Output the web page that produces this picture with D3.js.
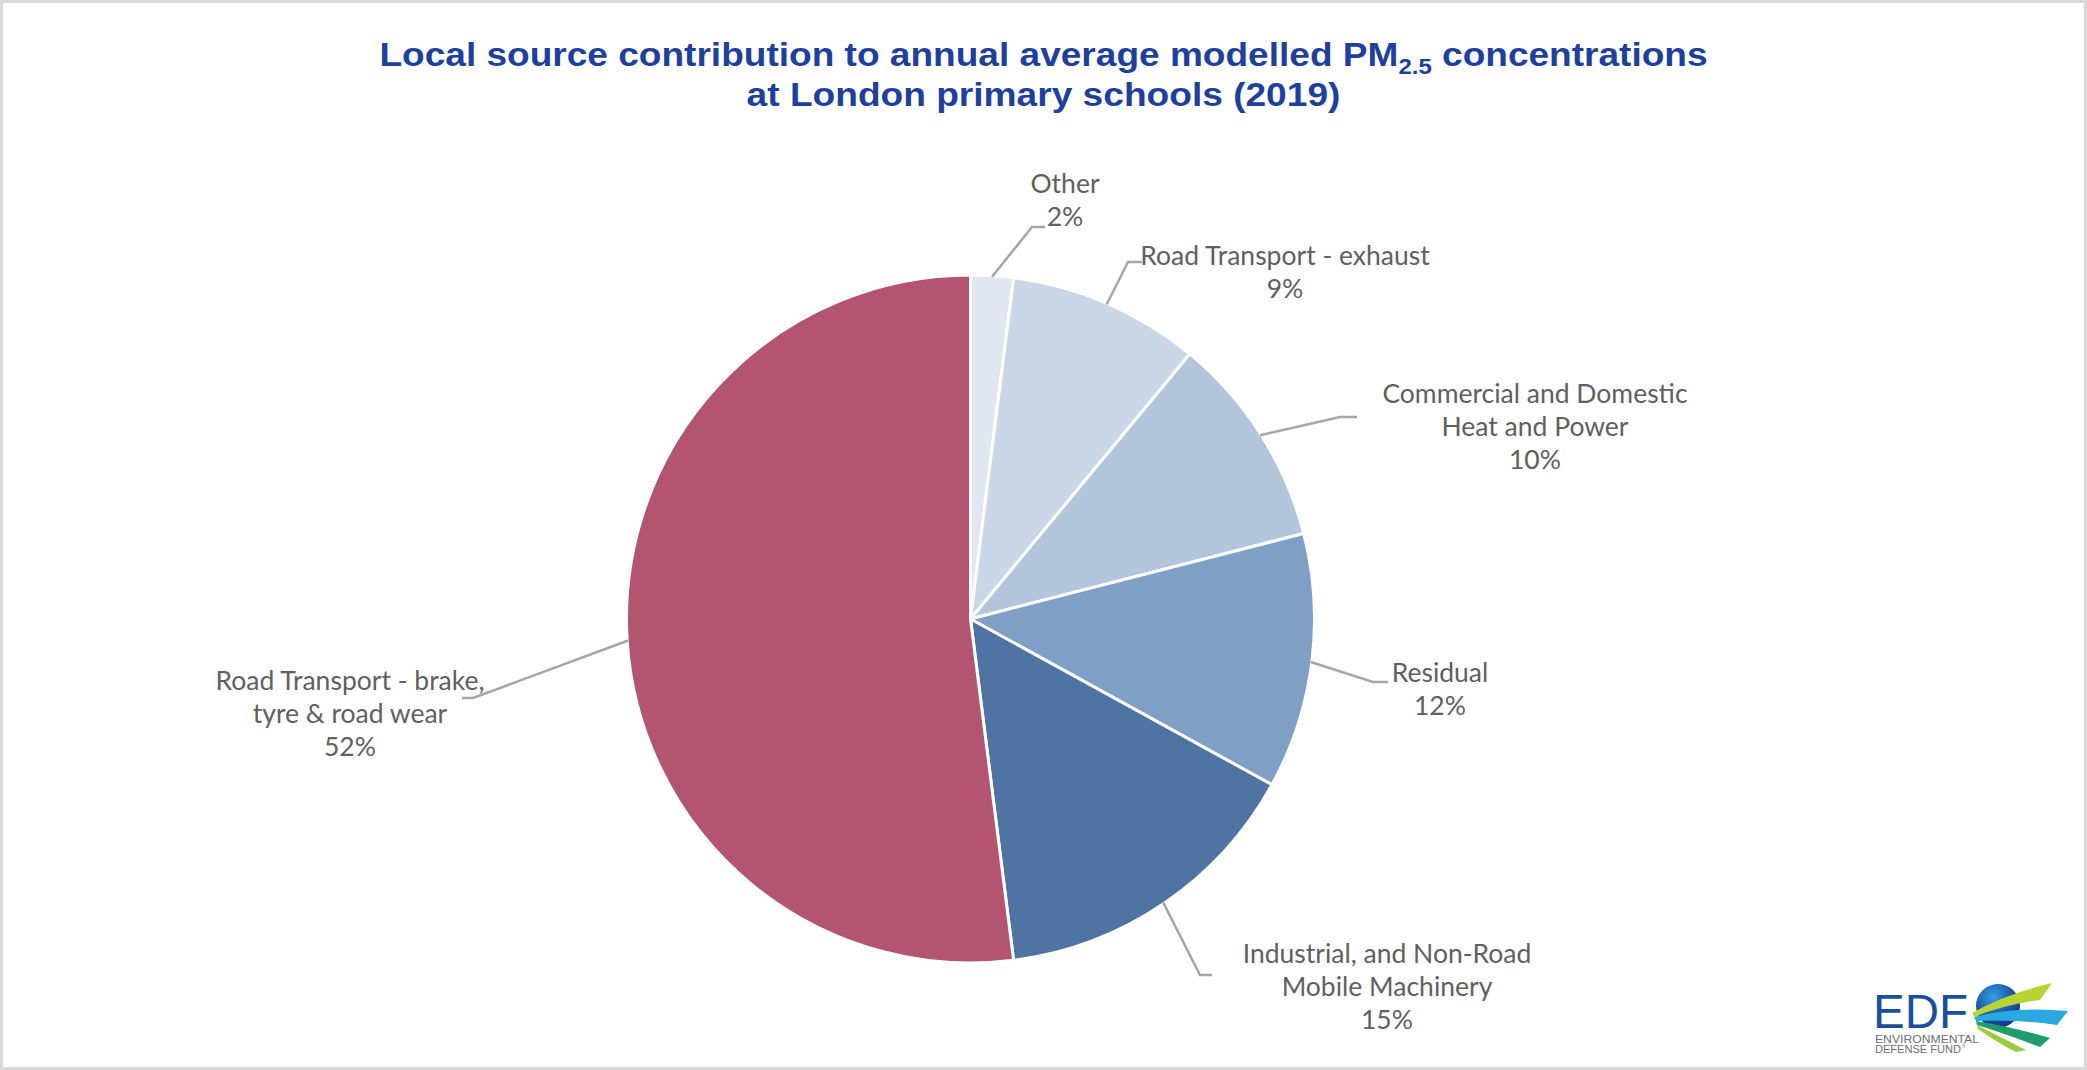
<!DOCTYPE html>
<html>
<head>
<meta charset="utf-8">
<script src="https://cdn.jsdelivr.net/npm/d3@7"></script>
<style>
  html, body { margin: 0; padding: 0; background: #ffffff; }
  svg { display: block; }
</style>
</head>
<body>
<svg id="chart" width="2087" height="1070"></svg>
<script>
// Source categories, clockwise from 12 o'clock
const categories = [
  "Other",
  "Road Transport - exhaust",
  "Commercial and Domestic Heat and Power",
  "Residual",
  "Industrial, and Non-Road Mobile Machinery",
  "Road Transport - brake, tyre & road wear"
];
// Share of local PM2.5 contribution (%)
const shares = [2, 9, 10, 12, 15, 52];
// Wrapped label text for each category
const labelLines = [
  ["Other"],
  ["Road Transport - exhaust"],
  ["Commercial and Domestic", "Heat and Power"],
  ["Residual"],
  ["Industrial, and Non-Road", "Mobile Machinery"],
  ["Road Transport - brake,", "tyre & road wear"]
];
const sliceColors = ["#e1e7f1", "#cbd7e7", "#b2c5db", "#809fc4", "#4f74a3", "#b35571"];

// Label placement: text centre x, first baseline y, leader elbow and end
const labelLayout = [
  { x: 1065, y: 193, elbow: [1032, 227], end: [1045, 227] },
  { x: 1285, y: 265, elbow: [1128, 262], end: [1142, 262] },
  { x: 1535, y: 403, elbow: [1340, 417], end: [1357, 417] },
  { x: 1440, y: 682, elbow: [1373, 682], end: [1388, 682] },
  { x: 1387, y: 963, elbow: [1200, 975], end: [1212, 975] },
  { x: 350,  y: 690, elbow: [473, 698],  end: [462, 698] }
];

const W = 2087, H = 1070;
const cx = 970.5, cy = 619, R = 344;
const svg = d3.select("#chart");

// Frame
svg.append("rect")
  .attr("x", 1.5).attr("y", 1.5)
  .attr("width", W - 3).attr("height", H - 3)
  .attr("fill", "#ffffff")
  .attr("stroke", "#d9d9d9").attr("stroke-width", 3);

// Title
const titleColor = "#1f3f9c";
function titleLine(y, targetWidth, build) {
  const g = svg.append("g").attr("transform", `translate(${W / 2},${y})`);
  const t = g.append("text")
    .attr("text-anchor", "middle")
    .attr("font-family", "'Liberation Sans', Arial, sans-serif")
    .attr("font-weight", "bold")
    .attr("font-size", 34)
    .attr("fill", titleColor);
  build(t);
  const w = t.node().getBBox().width;
  t.attr("transform", `scale(${targetWidth / w},1)`);
}
titleLine(66, 1329, t => {
  t.append("tspan").text("Local source contribution to annual average modelled PM");
  t.append("tspan").attr("font-size", 22).attr("dy", 8).text("2.5");
  t.append("tspan").attr("dy", -8).text(" concentrations");
});
titleLine(106, 594, t => {
  t.text("at London primary schools (2019)");
});

// Pie
const pie = d3.pie().sort(null).value(d => d).startAngle(0).endAngle(2 * Math.PI);
const arcs = pie(shares);
const arc = d3.arc().innerRadius(0).outerRadius(R);

const pieG = svg.append("g").attr("transform", `translate(${cx},${cy})`);
pieG.selectAll("path.slice")
  .data(arcs)
  .join("path")
  .attr("class", "slice")
  .attr("d", arc)
  .attr("fill", (d, i) => sliceColors[i])
  .attr("stroke", "#ffffff")
  .attr("stroke-width", 3)
  .attr("stroke-linejoin", "round");

// Leader lines from each slice's mid-angle on the rim
const leaderG = svg.append("g");
arcs.forEach((d, i) => {
  const a = (d.startAngle + d.endAngle) / 2;
  const sx = cx + (R - 1) * Math.sin(a);
  const sy = cy - (R - 1) * Math.cos(a);
  const L = labelLayout[i];
  leaderG.append("polyline")
    .attr("points", [[sx, sy], L.elbow, L.end].map(p => p.join(",")).join(" "))
    .attr("fill", "none")
    .attr("stroke", "#a6a6a6")
    .attr("stroke-width", 2.5);
});

// Data labels: category name then percentage
const labelG = svg.append("g")
  .attr("font-family", "Lato, 'Open Sans', sans-serif")
  .attr("font-size", 26.5)
  .attr("fill", "#606060")
  .attr("text-anchor", "middle");
const lineH = 33;
arcs.forEach((d, i) => {
  const L = labelLayout[i];
  const lines = labelLines[i].concat([d.data + "%"]);
  const t = labelG.append("text").attr("x", L.x).attr("y", L.y);
  lines.forEach((s, k) => {
    t.append("tspan").attr("x", L.x).attr("y", L.y + k * lineH).text(s);
  });
});

// EDF logo
const logo = svg.append("g");
const defs = svg.append("defs");
const grad = defs.append("radialGradient").attr("id", "globe")
  .attr("cx", "40%").attr("cy", "30%").attr("r", "75%");
grad.append("stop").attr("offset", "0%").attr("stop-color", "#3a9fe6");
grad.append("stop").attr("offset", "55%").attr("stop-color", "#1a5aaa");
grad.append("stop").attr("offset", "100%").attr("stop-color", "#12327e");

logo.append("text")
  .attr("x", 1873).attr("y", 1028)
  .attr("font-family", "'Liberation Sans', Arial, sans-serif")
  .attr("font-size", 48)
  .attr("fill", "#1b4f9c")
  .attr("textLength", 95)
  .attr("lengthAdjust", "spacingAndGlyphs")
  .text("EDF");
logo.append("text")
  .attr("x", 1875).attr("y", 1043)
  .attr("font-family", "'Liberation Sans', Arial, sans-serif")
  .attr("font-size", 10)
  .attr("fill", "#6d6e71")
  .attr("textLength", 104)
  .attr("lengthAdjust", "spacingAndGlyphs")
  .text("ENVIRONMENTAL");
logo.append("text")
  .attr("x", 1875).attr("y", 1053)
  .attr("font-family", "'Liberation Sans', Arial, sans-serif")
  .attr("font-size", 10)
  .attr("fill", "#6d6e71")
  .attr("textLength", 86)
  .attr("lengthAdjust", "spacingAndGlyphs")
  .text("DEFENSE FUND");
logo.append("text")
  .attr("x", 1962).attr("y", 1048)
  .attr("font-family", "'Liberation Sans', Arial, sans-serif")
  .attr("font-size", 5)
  .attr("fill", "#6d6e71")
  .text("®");
logo.append("circle")
  .attr("cx", 1998).attr("cy", 1006).attr("r", 22)
  .attr("fill", "url(#globe)");
const swooshes = [
  { d: "M1972,1013 Q2005,994 2052,983 L2040,1000 Q2006,1004 1974,1017 Z", c: "#b8d433" },
  { d: "M1974,1017 Q2015,1006 2068,1011 L2057,1025 Q2016,1019 1976,1021 Z", c: "#2aa8e0" },
  { d: "M1976,1021 Q2012,1027 2050,1038 L2040,1047 Q2006,1034 1977,1025 Z", c: "#1f9c6a" },
  { d: "M1977,1025 Q2002,1038 2026,1050 L2016,1052 Q1996,1042 1978,1029 Z", c: "#9ccb3b" }
];
logo.selectAll("path.swoosh").data(swooshes).join("path")
  .attr("class", "swoosh")
  .attr("d", d => d.d)
  .attr("fill", d => d.c);
</script>
</body>
</html>
